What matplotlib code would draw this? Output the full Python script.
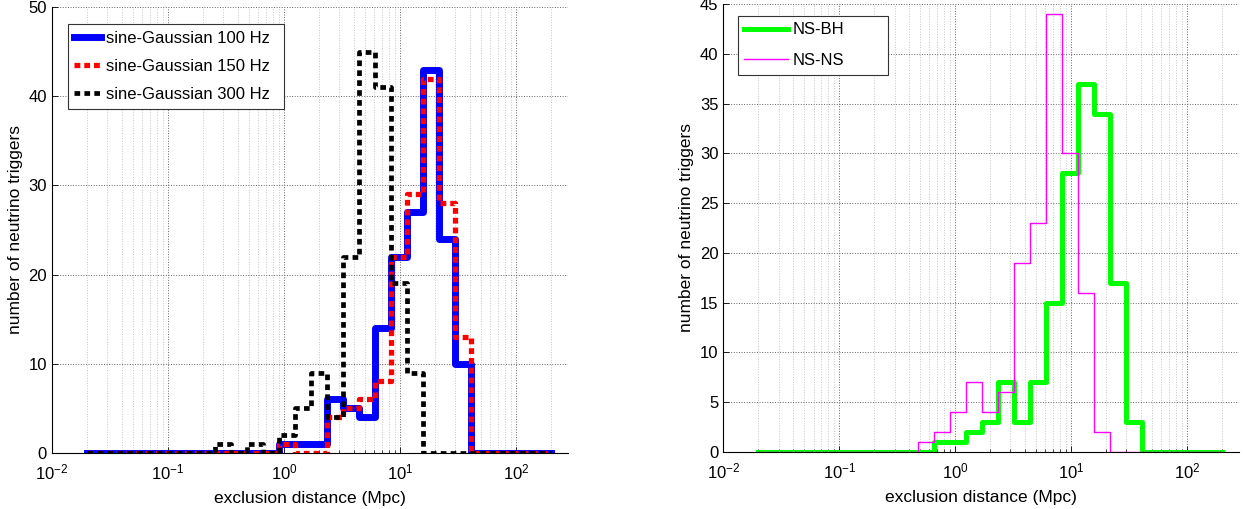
import matplotlib
matplotlib.use('Agg')
import matplotlib.pyplot as plt
import numpy as np
from matplotlib.ticker import LogLocator, NullFormatter

plt.rcParams['font.family'] = ['Liberation Sans', 'DejaVu Sans']
plt.rcParams['mathtext.default'] = 'regular'
plt.rcParams['font.size'] = 12

# bin edges (stairs x): 30 log-spaced points from 0.02 to 200 Mpc
edges = np.logspace(np.log10(0.02), np.log10(200), 30)

# counts per bin
sg_100 = [0, 0, 0, 0, 0, 0, 0, 0, 0, 0, 0, 0, 1, 1, 1, 6, 5, 4, 14, 22,
          27, 43, 24, 10, 0, 0, 0, 0, 0, 0]
sg_150 = [0, 0, 0, 0, 0, 0, 0, 0, 0, 0, 0, 0, 1, 0, 0, 4, 5, 6, 8, 22,
          29, 42, 28, 13, 0, 0, 0, 0, 0, 0]
sg_300 = [0, 0, 0, 0, 0, 0, 0, 0, 1, 0, 1, 0, 2, 5, 9, 4, 22, 45, 41, 19,
          9, 0, 0, 0, 0, 0, 0, 0, 0, 0]
ns_bh = [0, 0, 0, 0, 0, 0, 0, 0, 0, 0, 0, 1, 1, 2, 3, 7, 3, 7, 15, 28,
         37, 34, 17, 3, 0, 0, 0, 0, 0, 0]
ns_ns = [0, 0, 0, 0, 0, 0, 0, 0, 0, 0, 1, 2, 4, 7, 4, 6, 19, 23, 44, 30,
         16, 2, 0, 0, 0, 0, 0, 0, 0, 0]

left_labels = ['sine-Gaussian 100 Hz', 'sine-Gaussian 150 Hz', 'sine-Gaussian 300 Hz']
right_labels = ['NS-BH', 'NS-NS']


def style_axes(ax, ymax, ystep):
    ax.set_xscale('log')
    ax.set_xlim(1e-2, 10 ** 2.445)
    ax.set_ylim(0, ymax)
    ax.set_yticks(np.arange(0, ymax + 1, ystep))
    ax.xaxis.set_major_locator(LogLocator(base=10, numticks=10))
    ax.xaxis.set_minor_locator(LogLocator(base=10, subs=np.arange(2, 10), numticks=20))
    ax.xaxis.set_minor_formatter(NullFormatter())
    ax.spines['top'].set_visible(False)
    ax.spines['right'].set_visible(False)
    ax.tick_params(which='both', direction='in', top=False, right=False, labelsize=12)
    ax.tick_params(which='major', length=4, width=0.6)
    ax.tick_params(which='minor', length=2.5, width=0.5)
    ax.tick_params(axis='x', which='major', pad=7)
    ax.grid(True, which='major', linestyle=':', color='#666666', linewidth=0.7)
    ax.grid(True, which='minor', axis='x', linestyle=':', color='#c4c4c4', linewidth=0.7)
    ax.set_axisbelow(True)
    ax.set_xlabel('exclusion distance (Mpc)', fontsize=12.5, labelpad=6)
    ax.set_ylabel('number of neutrino triggers', fontsize=12.5, labelpad=4)


def boxed_legend(ax, x0, y0, width, hlen, spacing):
    leg = ax.legend(loc='upper left', bbox_to_anchor=(x0, y0, width, 0), mode='expand',
                    borderaxespad=0, fontsize=12, handlelength=hlen, handletextpad=0.3,
                    labelspacing=spacing, borderpad=0.4, fancybox=False, framealpha=1)
    leg.get_frame().set_edgecolor('#333333')
    leg.get_frame().set_linewidth(0.8)


fig = plt.figure(figsize=(12.43, 5.09), dpi=100)

# left panel: sine-Gaussians
ax1 = fig.add_axes([0.0418, 0.1106, 0.4149, 0.8751])
ax1.step(edges, sg_100, where='post', color='#0000ff', lw=5.0, label=left_labels[0])
ax1.step(edges, sg_150, where='post', color='#ff0000', lw=3.8,
         linestyle=(0, (1.1, 0.75)), label=left_labels[1])
ax1.step(edges, sg_300, where='post', color='black', lw=3.4,
         linestyle=(0, (1.2, 0.9)), label=left_labels[2])
style_axes(ax1, 50, 10)
boxed_legend(ax1, 0.0304, 0.9625, 0.4194, 1.6, 0.8)

# right panel: compact binaries
ax2 = fig.add_axes([0.5819, 0.1126, 0.4146, 0.879])
ax2.step(edges, ns_bh, where='post', color='#00ff00', lw=3.6, label=right_labels[0])
ax2.step(edges, ns_ns, where='post', color='#ff00ff', lw=1.0, label=right_labels[1])
style_axes(ax2, 45, 5)
boxed_legend(ax2, 0.0279, 0.9745, 0.2922, 2.6, 0.95)

fig.savefig('out.png', dpi=100)
